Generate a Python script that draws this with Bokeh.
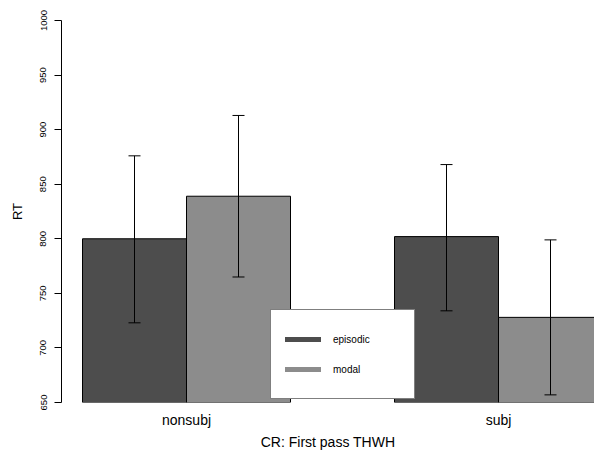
import numpy as np
from bokeh.plotting import figure
from bokeh.models import (ColumnDataSource, Whisker, TeeHead, FixedTicker, Legend,
                          LegendItem, Range1d)
from bokeh.embed import file_html
from bokeh.resources import INLINE

# ---- data ----
groups = ["nonsubj", "subj"]
series = ["episodic", "modal"]
means_episodic = [800, 802]
means_modal = [839, 728]
upper_episodic = [876, 868]
upper_modal = [913, 799]
lower_episodic = [723, 734]
lower_modal = [765, 657]
y_ticks = [650, 700, 750, 800, 850, 900, 950, 1000]
colors = ["#4D4D4D", "#8C8C8C"]

means = [means_episodic, means_modal]
uppers = [upper_episodic, upper_modal]
lowers = [lower_episodic, lower_modal]

FONT = "Liberation Sans"
group_stride = len(series) + 1

p = figure(width=594, height=452, output_backend="svg", toolbar_location=None,
           x_range=Range1d(-0.202, 4.923), y_range=Range1d(650, 1000),
           min_border_left=61, min_border_right=0, min_border_top=20,
           min_border_bottom=49)
p.outline_line_color = None
p.xgrid.grid_line_color = None
p.ygrid.grid_line_color = None
p.background_fill_color = "white"

legend_renderers = []
for si, name in enumerate(series):
    xs = [gi * group_stride + si + 0.5 for gi in range(len(groups))]
    src = ColumnDataSource(dict(x=xs, top=means[si], upper=uppers[si], lower=lowers[si]))
    p.vbar(x="x", top="top", bottom=0, width=1, source=src,
           fill_color=colors[si], line_color="black", line_width=1)
    w = Whisker(source=src, base="x", upper="upper", lower="lower",
                line_color="black", line_width=1, level="annotation",
                upper_head=TeeHead(size=12, line_color="black", line_width=1),
                lower_head=TeeHead(size=12, line_color="black", line_width=1))
    p.add_layout(w)
    # legend-only renderer (no visible data)
    lsrc = ColumnDataSource(dict(x=[np.nan], y=[np.nan]))
    lr = p.line(x="x", y="y", source=lsrc, line_color=colors[si], line_width=5,
                line_cap="round")
    legend_renderers.append(lr)

# x axis
group_centers = [gi * group_stride + len(series) / 2 for gi in range(len(groups))]
p.xaxis.ticker = FixedTicker(ticks=group_centers)
p.xaxis.major_label_overrides = {c: g for c, g in zip(group_centers, groups)}
p.xaxis.axis_line_color = None
p.xaxis.major_tick_line_color = None
p.xaxis.minor_tick_line_color = None
p.xaxis.major_tick_out = 0
p.xaxis.major_tick_in = 0
p.xaxis.major_label_text_font = FONT
p.xaxis.major_label_text_font_size = "14px"
p.xaxis.major_label_text_color = "black"
p.xaxis.major_label_standoff = 9
p.xaxis.axis_label = "CR: First pass THWH"
p.xaxis.axis_label_text_font = FONT
p.xaxis.axis_label_text_font_size = "14px"
p.xaxis.axis_label_text_font_style = "normal"
p.xaxis.axis_label_text_color = "black"
p.xaxis.axis_label_standoff = 3

# y axis
p.yaxis.ticker = FixedTicker(ticks=y_ticks)
p.yaxis.minor_tick_line_color = None
p.yaxis.major_tick_in = 0
p.yaxis.major_tick_out = 7
p.yaxis.axis_line_color = "black"
p.yaxis.major_tick_line_color = "black"
p.yaxis.major_label_orientation = "vertical"
p.yaxis.major_label_text_font = FONT
p.yaxis.major_label_text_font_size = "9.5px"
p.yaxis.major_label_text_color = "black"
p.yaxis.major_label_standoff = 8
p.yaxis.axis_label = "RT"
p.yaxis.axis_label_text_font = FONT
p.yaxis.axis_label_text_font_size = "13px"
p.yaxis.axis_label_text_font_style = "normal"
p.yaxis.axis_label_text_color = "black"
p.yaxis.axis_label_standoff = 13

legend = Legend(items=[LegendItem(label=s, renderers=[r]) for s, r in zip(series, legend_renderers)],
                location=(209, 3), margin=0, padding=14, spacing=0,
                glyph_width=36, glyph_height=30, label_height=30, label_width=67,
                label_standoff=12, label_text_font=FONT, label_text_font_size="10px",
                label_text_color="black",
                border_line_color="black", border_line_width=1,
                background_fill_color="white", background_fill_alpha=1.0)
p.add_layout(legend)

open("out.html", "w").write(file_html(p, INLINE))
